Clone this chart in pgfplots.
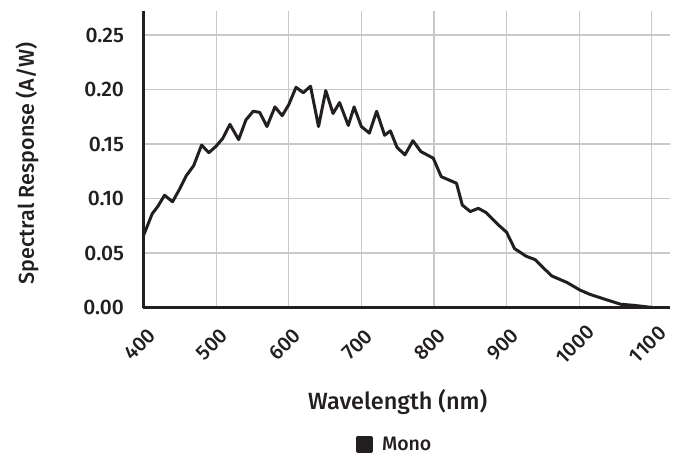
\documentclass[border=0pt]{standalone}
\usepackage{fontspec}
\setmainfont{Fira Sans}[UprightFont={* Medium}]
\usepackage{pgfplots}
\pgfplotsset{compat=1.18}
\usepackage{pgfplotstable}
\definecolor{ink}{HTML}{231F20}
\definecolor{gridc}{HTML}{C8C8C8}
\pgfplotstableread{
wl resp
400 0.066
412 0.086
420 0.093
429 0.103
440 0.097
450 0.109
459 0.121
469 0.130
480 0.149
490 0.142
500 0.148
509 0.155
519 0.168
531 0.154
541 0.172
551 0.180
560 0.179
570 0.166
581 0.184
591 0.176
600 0.186
610 0.202
620 0.197
630 0.203
641 0.166
651 0.199
661 0.178
670 0.188
682 0.167
690 0.184
700 0.166
711 0.160
721 0.180
732 0.158
740 0.162
749 0.147
760 0.140
771 0.153
782 0.143
799 0.137
810 0.120
831 0.114
839 0.094
850 0.088
861 0.091
872 0.087
890 0.075
900 0.069
911 0.054
927 0.047
939 0.044
962 0.029
983 0.023
1001 0.016
1015 0.012
1038 0.007
1057 0.003
1075 0.002
1101 0.000
}\mono
\begin{document}
\begin{tikzpicture}
\path[use as bounding box] (-143.5bp,-148.5bp) rectangle (535.5bp,307.5bp);
\begin{axis}[
  scale only axis,
  width=526.5bp, height=296.5bp,
  xmin=400, xmax=1125, ymin=0, ymax=0.272,
  axis x line=bottom, axis y line=left,
  axis line style={-, line width=3bp, draw=ink},
  major tick length=0pt,
  xtick={400,500,...,1100},
  ytick={0,0.05,0.10,0.15,0.20,0.25},
  grid=major,
  major grid style={draw=gridc, line width=1.2bp},
  /pgf/number format/assume math mode=true,
  yticklabel style={/pgf/number format/.cd, fixed, fixed zerofill, precision=2, /tikz/.cd, font=\fontsize{21bp}{25bp}\selectfont, text=ink, anchor=east, xshift=-16bp},
  xticklabel style={/pgf/number format/.cd, int detect, 1000 sep={}, /tikz/.cd, font=\fontsize{20.5bp}{24bp}\selectfont, text=ink, xshift=-4bp, yshift=-37bp, rotate=45, anchor=center},
  xlabel={Wavelength (nm)},
  ylabel={Spectral Response (A/W)},
  every axis x label/.style={at={(axis description cs:0.4828,0)}, yshift=-94.5bp, anchor=center, font=\fontsize{23.5bp}{28bp}\selectfont, text=ink},
  every axis y label/.style={at={(axis description cs:0,0.5)}, xshift=-116.5bp, yshift=-4bp, rotate=90, anchor=center, font=\fontsize{21.5bp}{26bp}\selectfont, text=ink},
  legend style={at={(0.4771,-0.4637)}, anchor=center, draw=none, fill=none, font=\fontsize{19.5bp}{23bp}\selectfont, text=ink, inner sep=0pt},
  legend image code/.code={\fill[ink] (0bp,-7bp) rectangle (14bp,7bp);},
  legend cell align=left,
]
\addplot[draw=ink, line width=3bp, line join=round, no marks] table[x=wl, y=resp] {\mono};
\addlegendentry{\hspace{7bp}Mono}
\end{axis}
\end{tikzpicture}
\end{document}
